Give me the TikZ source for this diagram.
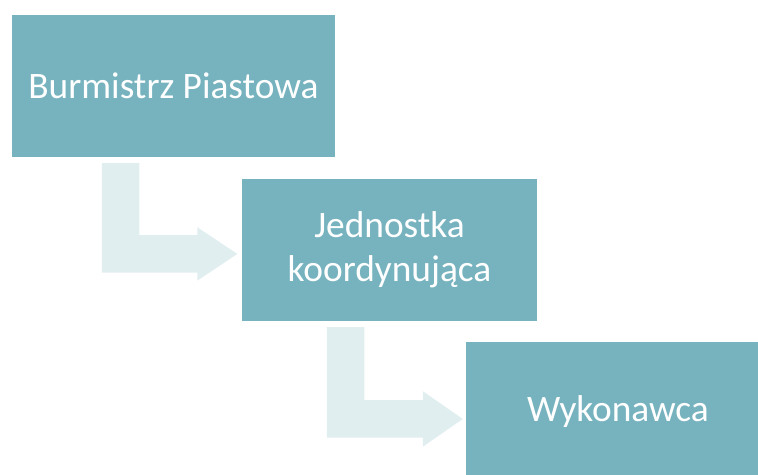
\documentclass[tikz,border=0pt]{standalone}
\usepackage{fontspec}
\setmainfont{Carlito}
\definecolor{boxfill}{HTML}{77B3BF}
\definecolor{arrowfill}{HTML}{E1EEF0}
\tikzset{
  stage/.style={rectangle, fill=boxfill, text=white, inner sep=0pt, align=center,
    font=\fontsize{37.5}{44}\selectfont},
  flowarrow/.style={fill=arrowfill, draw=none}
}
% bent arrow: #1 top-left of the stem, #2 stem width, #3 stem length,
% #4 horizontal reach to head base, #5 head half-height overhang, #6 head length
\newcommand{\bentarrow}[6]{%
  \fill[flowarrow] (#1) ++(0,0) -- ++(#2,0) -- ++(0,#3-#2) -- ++(#4-#2,0)
    -- ++(0,-#5) -- ++(#6,#5+#2/2) -- ++(-#6,#5+#2/2) -- ++(0,-#5)
    -- ++(-#4,0) -- cycle;}
\begin{document}
\begin{tikzpicture}[x=1bp,y=-1bp]
  \useasboundingbox (0,0) rectangle (758,475);
  \clip (0,0) rectangle (758,475);
  \fill[white] (0,0) rectangle (758,475);

  \node[stage, minimum width=323bp, minimum height=142bp] (b1) at (173.5,86) {Burmistrz Piastowa};
  \node[stage, minimum width=295bp, minimum height=142bp] (b2) at (389.5,250) {Jednostka\\koordynująca};
  \node[stage, minimum width=304bp, minimum height=142bp] (b3) at (618,413) {\raisebox{8bp}{Wykonawca}};

  \coordinate (a1) at ([xshift=90bp,yshift=-6bp]b1.south west);
  \coordinate (a2) at ([xshift=85bp,yshift=-6bp]b2.south west);
  \bentarrow{a1}{37.5}{109.5}{95.5}{8}{40}
  \bentarrow{a2}{37.5}{110.5}{96}{9}{40}
\end{tikzpicture}
\end{document}
